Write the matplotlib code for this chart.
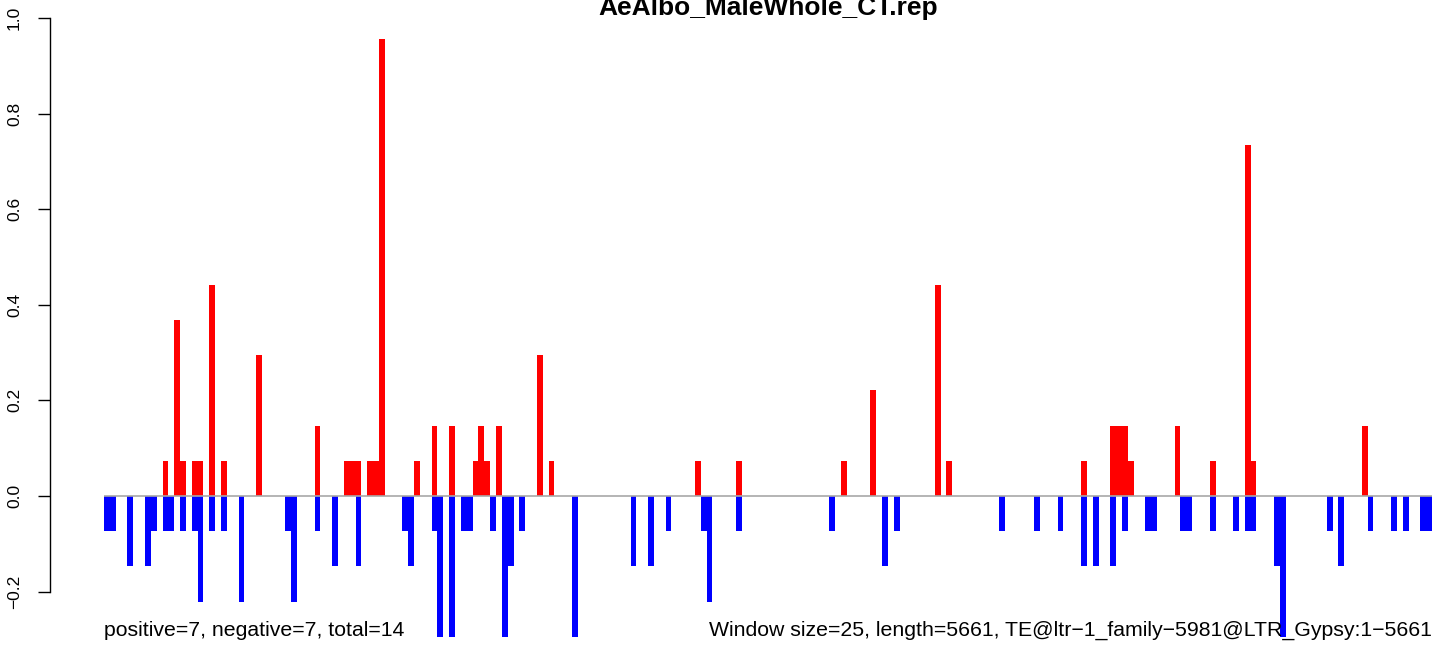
import matplotlib
matplotlib.use("Agg")
import matplotlib.pyplot as plt

# ---- data (window index -> score) ----
n_windows = 227
title = "AeAlbo_MaleWhole_CT.rep"
left_note = "positive=7, negative=7, total=14"
right_note = "Window size=25, length=5661, TE@ltr\u22121_family\u22125981@LTR_Gypsy:1\u22125661"

pos_idx = [10, 12, 13, 15, 16, 18, 20, 26, 36, 41, 42, 43, 45, 46, 47, 53, 56, 59,
           63, 64, 65, 67, 74, 76, 101, 108, 126, 131, 142, 144, 167, 172, 173, 174,
           175, 183, 189, 195, 196, 215]
pos_val = [0.074, 0.368, 0.074, 0.074, 0.074, 0.441, 0.074, 0.294, 0.147, 0.074,
           0.074, 0.074, 0.074, 0.074, 0.956, 0.074, 0.147, 0.147, 0.074, 0.147,
           0.074, 0.147, 0.294, 0.074, 0.074, 0.074, 0.074, 0.221, 0.441, 0.074,
           0.074, 0.147, 0.147, 0.147, 0.074, 0.147, 0.074, 0.735, 0.074, 0.147]

neg_idx = [0, 1, 4, 7, 8, 10, 11, 13, 15, 16, 18, 20, 23, 31, 32, 36, 39, 43, 51, 52,
           56, 57, 59, 61, 62, 66, 68, 69, 71, 80, 90, 93, 96, 102, 103, 108, 124,
           133, 135, 153, 159, 163, 167, 169, 172, 174, 178, 179, 184, 185, 189, 193,
           195, 196, 200, 201, 209, 211, 216, 220, 222, 225, 226]
neg_val = [-0.074, -0.074, -0.147, -0.147, -0.074, -0.074, -0.074, -0.074, -0.074,
           -0.221, -0.074, -0.074, -0.221, -0.074, -0.221, -0.074, -0.147, -0.147,
           -0.074, -0.147, -0.074, -0.294, -0.294, -0.074, -0.074, -0.074, -0.294,
           -0.147, -0.074, -0.294, -0.147, -0.147, -0.074, -0.074, -0.221, -0.074,
           -0.074, -0.147, -0.074, -0.074, -0.074, -0.074, -0.147, -0.147, -0.147,
           -0.074, -0.074, -0.074, -0.074, -0.074, -0.074, -0.074, -0.074, -0.074,
           -0.147, -0.294, -0.074, -0.147, -0.074, -0.074, -0.074, -0.074, -0.074]

y_ticks = [-0.2, 0.0, 0.2, 0.4, 0.6, 0.8, 1.0]

# ---- figure ----
W, H, DPI = 1444, 648, 100
plt.rcParams['font.family'] = ['Liberation Sans', 'DejaVu Sans']
fig = plt.figure(figsize=(W / DPI, H / DPI), dpi=DPI)
left_px, right_px = 104, 1432
ax = fig.add_axes([left_px / W, 0, (right_px - left_px) / W, 1])
zero_from_bottom = 152
ppu = 478
ax.set_xlim(0, n_windows)
ax.set_ylim(-zero_from_bottom / ppu, (H - zero_from_bottom) / ppu)

ax.bar(neg_idx, neg_val, width=1.0, align='edge', color='#0000FF', linewidth=0)
ax.bar(pos_idx, pos_val, width=1.0, align='edge', color='#FF0000', linewidth=0)
ax.axhline(0, color='#A8A8A8', lw=1.2, zorder=3)

for s in ['top', 'right', 'bottom']:
    ax.spines[s].set_visible(False)
ax.spines['left'].set_position(('outward', (left_px - 50) * 72 / DPI))
ax.spines['left'].set_bounds(-0.2, 1.0)
ax.spines['left'].set_linewidth(1.0)
ax.set_xticks([])
ax.set_yticks(y_ticks)
ax.set_yticklabels([f"{t:.1f}".replace('-', '\u2212') for t in y_ticks],
                   rotation=90, va='center', fontsize=12.5)
ax.tick_params(axis='y', length=12 * 72 / DPI, width=1.0, pad=16 * 72 / DPI)
ax.patch.set_alpha(0)

fig.text(768 / W, 1 - 15 / H, title, ha='center', va='baseline',
         fontsize=19, fontweight='bold')
fig.text(left_px / W, 1 - 636 / H, left_note, ha='left', va='baseline', fontsize=15.3)
fig.text(right_px / W, 1 - 636 / H, right_note, ha='right', va='baseline', fontsize=15.3)

fig.savefig("out.png", dpi=DPI)
